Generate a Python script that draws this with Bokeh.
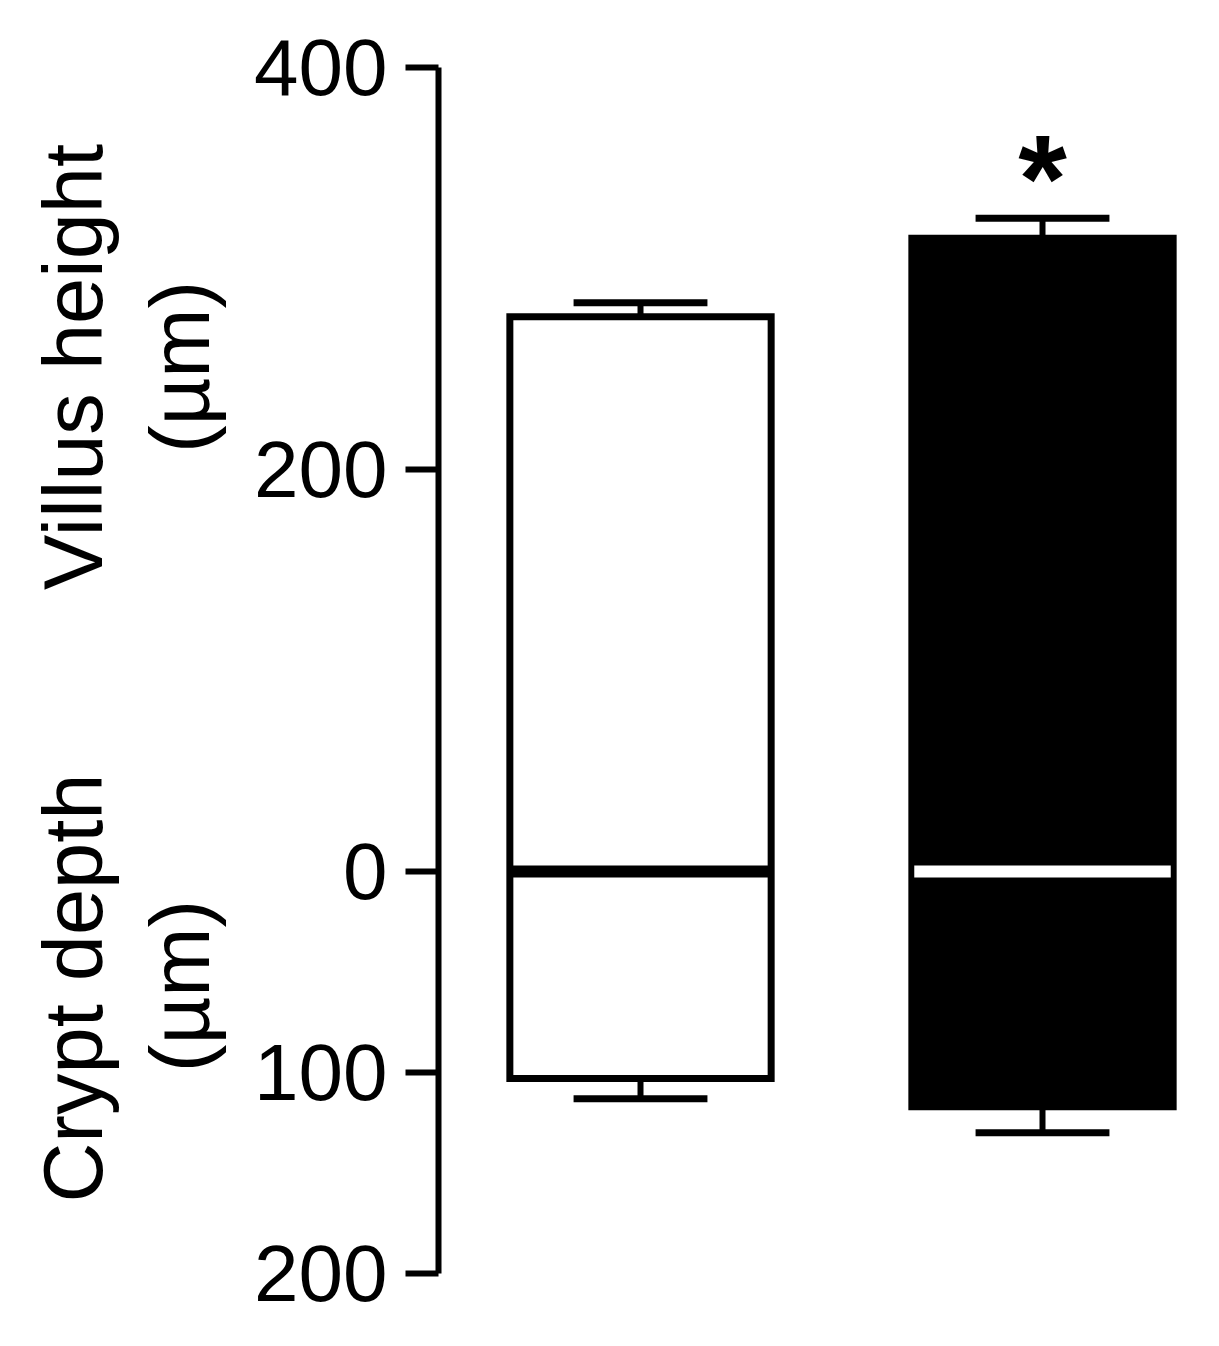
import numpy as np
from bokeh.plotting import figure
from bokeh.layouts import row
from bokeh.models import FixedTicker, ColumnDataSource, Range1d
from bokeh.core.properties import value
from bokeh.embed import file_html
from bokeh.resources import INLINE

# ---- data ----
groups = ["Control", "Treated"]
xpos = [1, 2]
villus_mean = [276, 315]
villus_err = [7, 10]
crypt_mean = [103, 117]
crypt_err = [10, 13]
fills = ["white", "black"]
zero_colors = ["black", "white"]
y_ticks = [-200, -100, 0, 200, 400]
y_tick_labels = {-200: "200", -100: "100", 0: "0", 200: "200", 400: "400"}
significance = ["", "*"]
axis_titles = ["Villus height", "(µm)", "Crypt depth", "(µm)"]
axis_title_y = [251, 251, -58, -57]

FONT = "Liberation Sans"
H = 1330
BT, BB = 67, H - 1273
LW = 250          # width of the title strip
W = 1211 - LW
BL, BR = 438 - LW, 10
frame_w = W - BL - BR
xr = (0.4975, 0.4975 + frame_w / 402.0)

# ---- left strip holding the two rotated axis titles ----
pl = figure(width=LW, height=H, output_backend="svg", toolbar_location=None,
            x_range=Range1d(0, LW), y_range=Range1d(-200, 400),
            x_axis_location=None, y_axis_location=None,
            min_border_left=0, min_border_right=0, min_border_top=BT, min_border_bottom=BB)
pl.outline_line_color = None
pl.grid.visible = False
tsrc = ColumnDataSource(dict(x=[73, 180, 73, 180], y=axis_title_y, t=axis_titles))
pl.text(x="x", y="y", text="t", angle=np.pi / 2, text_align="center",
        text_baseline="alphabetic", text_font=value(FONT), text_font_size="83px",
        text_color="black", source=tsrc)

# ---- main plot ----
p = figure(width=W, height=H, output_backend="svg", toolbar_location=None,
           x_range=Range1d(*xr), y_range=Range1d(-200, 400),
           x_axis_location=None, min_border_left=BL, min_border_top=BT,
           min_border_bottom=BB, min_border_right=BR)
p.outline_line_color = None
p.grid.visible = False

bw = 0.65
v = np.array(villus_mean, float)
ve = np.array(villus_err, float)
c = -np.array(crypt_mean, float)
ce = np.array(crypt_err, float)
x = np.array(xpos, float)

cap = 0.333
p.segment(x0=x, y0=v, x1=x, y1=v + ve, line_color="black", line_width=6)
p.segment(x0=x, y0=c, x1=x, y1=c - ce, line_color="black", line_width=6)
p.segment(x0=x - cap / 2, y0=v + ve, x1=x + cap / 2, y1=v + ve, line_color="black", line_width=7)
p.segment(x0=x - cap / 2, y0=c - ce, x1=x + cap / 2, y1=c - ce, line_color="black", line_width=7)

src = ColumnDataSource(dict(x=x, top=v, bottom=c, fill=fills, zc=zero_colors,
                            x0=x - bw / 2 + 0.006, x1=x + bw / 2 - 0.006, y=np.zeros(2),
                            sig=significance, sy=v + ve))
p.vbar(x="x", top="top", bottom="bottom", width=bw, fill_color="fill",
       line_color="black", line_width=7, line_join="miter", source=src)
p.segment(x0="x0", y0="y", x1="x1", y1="y", line_color="zc", line_width=12, source=src)

p.text(x="x", y="sy", text="sig", text_font=value(FONT), text_font_style="bold",
       text_font_size="125px", text_align="center", text_baseline="alphabetic",
       y_offset=-40, source=src)

ax = p.yaxis[0]
ax.ticker = FixedTicker(ticks=y_ticks)
ax.major_label_overrides = y_tick_labels
ax.axis_line_width = 6
ax.axis_line_color = "black"
ax.major_tick_line_width = 6
ax.major_tick_out = 33
ax.major_tick_in = 0
ax.minor_tick_line_color = None
ax.major_label_standoff = 18
ax.major_label_text_font = FONT
ax.major_label_text_font_size = "80px"
ax.major_label_text_color = "black"

open("out.html", "w").write(file_html(row(pl, p), INLINE))
